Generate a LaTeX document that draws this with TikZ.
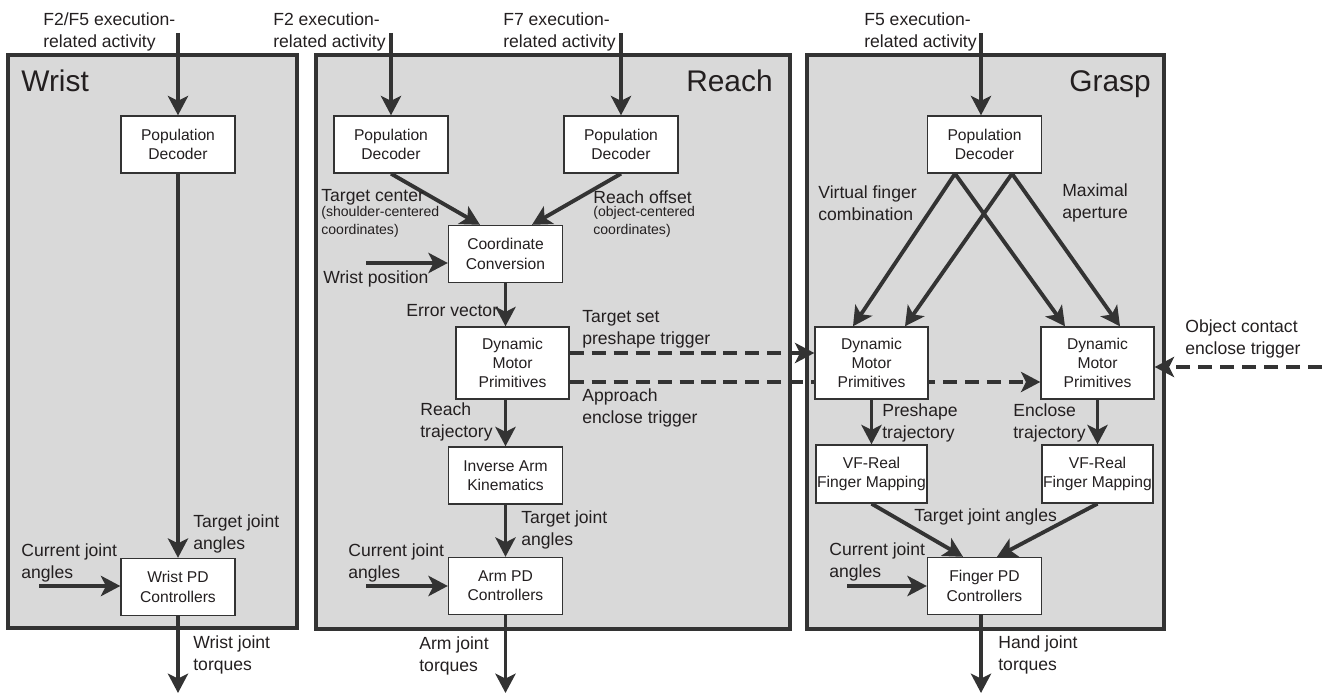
\documentclass[tikz,border=0pt]{standalone}
\usepackage{fontspec}
\setmainfont{Liberation Sans}
\usetikzlibrary{arrows.meta,calc}
\definecolor{ln}{HTML}{333333}
\definecolor{panelfill}{HTML}{D9D9D9}
\definecolor{txt}{HTML}{231F20}
\pgfdeclarelayer{panels}
\pgfdeclarelayer{under}
\pgfsetlayers{panels,under,main}
\begin{document}
\begin{tikzpicture}[x=0.02cm,y=-0.02cm,
  every node/.style={text=txt},
  panel/.style={draw=ln, fill=panelfill, line width=2.2pt},
  blk/.style={draw=ln, fill=white, line width=0.8pt, inner sep=0pt, align=center, font=\fontsize{8.9}{11}\selectfont},
  pdbox/.style={blk, minimum width=2.28cm, minimum height=1.14cm},
  dmpbox/.style={blk, minimum width=2.26cm, minimum height=1.44cm},
  vfbox/.style={blk, minimum width=2.22cm, minimum height=1.16cm},
  lbl/.style={anchor=west, align=left, inner sep=0pt, font=\fontsize{10}{12.5}\selectfont},
  smalllbl/.style={anchor=west, align=left, inner sep=0pt, font=\fontsize{8}{10}\selectfont},
  paneltitle/.style={inner sep=0pt, font=\fontsize{17}{20}\selectfont},
  arr/.style={draw=ln, line width=2.2pt, -{Stealth[length=11pt,width=11.5pt,inset=2.8pt]}},
  darr/.style={arr, line width=2pt, dash pattern=on 8pt off 4.5pt},
]
\useasboundingbox (0,0) rectangle (1322,695);

% panels
\begin{pgfonlayer}{panels}
\draw[panel] (8,55) rectangle (297,628);
\draw[panel] (316,55) rectangle (790,629);
\draw[panel] (807,55) rectangle (1164,629);
\end{pgfonlayer}

\node[paneltitle, anchor=base west] (tw) at (21,92) {Wrist};
\node[paneltitle, anchor=base east] (tr) at (773,92) {Reach};
\node[paneltitle, anchor=base east] (tg) at (1151,92) {Grasp};

% boxes
\node[pdbox] (wpd) at (178,144.5) {Population\\Decoder};
\node[pdbox] (wpid) at (178,587) {Wrist PD\\Controllers};
\node[pdbox] (rpd1) at (391,144.5) {Population\\Decoder};
\node[pdbox] (rpd2) at (621,144.5) {Population\\Decoder};
\node[pdbox] (cc) at (505.5,254) {Coordinate\\Conversion};
\node[dmpbox] (rdmp) at (512.5,363) {Dynamic\\Motor\\Primitives};
\node[pdbox] (iak) at (505.5,475.5) {Inverse Arm\\Kinematics};
\node[pdbox] (apd) at (505.5,586) {Arm PD\\Controllers};
\node[pdbox] (gpd) at (984.5,144.5) {Population\\Decoder};
\node[dmpbox] (gdmp1) at (871.5,363) {Dynamic\\Motor\\Primitives};
\node[dmpbox] (gdmp2) at (1097.5,363) {Dynamic\\Motor\\Primitives};
\node[vfbox] (vf1) at (871.5,474) {VF-Real\\Finger Mapping};
\node[vfbox] (vf2) at (1097.5,474) {VF-Real\\Finger Mapping};
\node[pdbox] (fpd) at (984.5,586) {Finger PD\\Controllers};

% free ends
\coordinate (inW) at (178,33);
\coordinate (inF2) at (391,33);
\coordinate (inF7) at (621,33);
\coordinate (inF5) at (981,33);
\coordinate (outW) at (178,693);
\coordinate (outA) at (506,693);
\coordinate (outH) at (981,693);
\coordinate (curW) at (39,586);
\coordinate (curA) at (366,586);
\coordinate (curG) at (847,586);
\coordinate (wpos) at (366,263);
\coordinate (objc) at (1322,367);

% wrist
\draw[arr] (inW) -- (wpd);
\draw[arr] (wpd) -- (wpid);
\draw[arr] (wpid) -- (outW);
\draw[arr] (curW) -- (curW -| wpid.west);

% reach
\draw[arr] (inF2) -- (rpd1);
\draw[arr] (inF7) -- (rpd2);
\draw[arr] (rpd1.south) -- ([xshift=-0.51cm]cc.north);
\draw[arr] (rpd2.south) -- ([xshift=0.53cm]cc.north);
\draw[arr] (wpos) -- (wpos -| cc.west);
\draw[arr] (cc.south) -- (cc.south |- rdmp.north);
\draw[arr] (iak.north |- rdmp.south) -- (iak.north);
\draw[arr] (iak) -- (apd);
\draw[arr] (curA) -- (curA -| apd.west);
\draw[arr] (apd.south) -- (apd.south |- outA);

% triggers
\draw[darr] ([yshift=0.2cm]rdmp.east) -- ([yshift=0.2cm]gdmp1.west);
\begin{pgfonlayer}{under}
\draw[darr] ([yshift=-0.38cm]rdmp.east) -- ([yshift=-0.38cm]gdmp2.west);
\end{pgfonlayer}
\draw[darr] (objc) -- (objc -| gdmp2.east);

% grasp
\draw[arr] (inF5) -- (inF5 |- gpd.north);
\draw[arr] ([xshift=-0.59cm]gpd.south) -- ([xshift=-0.37cm]gdmp1.north);
\draw[arr] ([xshift=-0.59cm]gpd.south) -- ([xshift=-0.65cm]gdmp2.north);
\draw[arr] ([xshift=0.55cm]gpd.south) -- ([xshift=0.67cm]gdmp1.north);
\draw[arr] ([xshift=0.55cm]gpd.south) -- ([xshift=0.45cm]gdmp2.north);
\draw[arr] (gdmp1.south) -- (vf1.north);
\draw[arr] (gdmp2.south) -- (vf2.north);
\draw[arr] (vf1.south) -- ([xshift=-0.43cm]fpd.north);
\draw[arr] (vf2.south) -- ([xshift=0.25cm]fpd.north);
\draw[arr] (curG) -- (curG -| fpd.west);
\draw[arr] (outH |- fpd.south) -- (outH);

% labels
\node[lbl] (l1) at (43,32) {F2/F5 execution-\\related activity};
\node[lbl] (l2) at (273,32) {F2 execution-\\related activity};
\node[lbl] (l3) at (503,32) {F7 execution-\\related activity};
\node[lbl] (l4) at (864,32) {F5 execution-\\related activity};
\node[lbl] (l5) at (193,533.5) {Target joint\\angles};
\node[lbl] (l6) at (21,562.5) {Current joint\\angles};
\node[lbl] (l7) at (193,655) {Wrist joint\\torques};
\node[lbl] (l8) at (321,197) {Target center};
\node[smalllbl] (l9) at (321,222) {(shoulder-centered\\coordinates)};
\node[lbl] (l10) at (593,197) {Reach offset};
\node[smalllbl] (l11) at (593,222) {(object-centered\\coordinates)};
\node[lbl] (l12) at (323,279) {Wrist position};
\node[lbl] (l13) at (406,311) {Error vector};
\node[lbl] (l14) at (582,329) {Target set\\preshape trigger};
\node[lbl] (l15) at (582,408) {Approach\\enclose trigger};
\node[lbl] (l16) at (420,422) {Reach\\trajectory};
\node[lbl] (l17) at (521,530) {Target joint\\angles};
\node[lbl] (l18) at (348,562.5) {Current joint\\angles};
\node[lbl] (l19) at (419,656) {Arm joint\\torques};
\node[lbl] (l20) at (818,203) {Virtual finger\\combination};
\node[lbl] (l21) at (1062,203) {Maximal\\aperture};
\node[lbl] (l22) at (1185,339) {Object contact\\enclose trigger};
\node[lbl] (l23) at (882,422.5) {Preshape\\trajectory};
\node[lbl] (l24) at (1013,422.5) {Enclose\\trajectory};
\node[lbl] (l25) at (914,517) {Target joint angles};
\node[lbl] (l26) at (829,562) {Current joint\\angles};
\node[lbl] (l27) at (998,655) {Hand joint\\torques};
\end{tikzpicture}
\end{document}
